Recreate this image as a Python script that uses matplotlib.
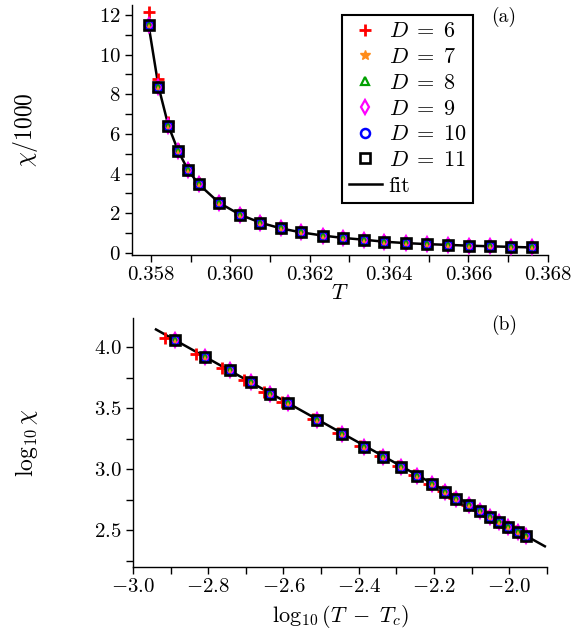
import matplotlib
matplotlib.use("Agg")
import matplotlib.pyplot as plt
from matplotlib.ticker import MultipleLocator, FormatStrFormatter

plt.rcParams['font.family'] = 'serif'
plt.rcParams['font.serif'] = ['cmr10']
plt.rcParams['mathtext.fontset'] = 'cm'
plt.rcParams['axes.formatter.use_mathtext'] = True
plt.rcParams['font.size'] = 15

# panel (a): temperature and chi/1000
T = [0.35794, 0.35819, 0.35844, 0.35869, 0.35894, 0.35920, 0.35972, 0.36025,
     0.36076, 0.36128, 0.36179, 0.36233, 0.36285, 0.36337, 0.36388, 0.36443,
     0.36495, 0.36548, 0.36601, 0.36654, 0.36707, 0.36760]
chi_D6 = [12.13, 8.75, 6.62, 5.25, 4.25, 3.53, 2.56, 1.94, 1.53, 1.24, 1.04,
          0.89, 0.76, 0.67, 0.58, 0.52, 0.47, 0.42, 0.38, 0.34, 0.31, 0.28]
chi_D = [11.50, 8.39, 6.41, 5.12, 4.16, 3.47, 2.52, 1.92, 1.52, 1.23, 1.03,
         0.87, 0.75, 0.66, 0.56, 0.49, 0.44, 0.40, 0.36, 0.33, 0.30, 0.27]

# panel (b): log10(T-Tc) and log10(chi)
logt_D6 = [-2.916, -2.833, -2.764, -2.705, -2.653, -2.605, -2.522, -2.454,
           -2.396, -2.344, -2.295, -2.253, -2.212, -2.177, -2.146, -2.113,
           -2.083, -2.057, -2.032, -2.008, -1.983, -1.961]
logchi_D6 = [4.075, 3.943, 3.828, 3.727, 3.634, 3.553, 3.414, 3.297, 3.190,
             3.107, 3.025, 2.950, 2.883, 2.820, 2.763, 2.707, 2.663, 2.614,
             2.568, 2.530, 2.491, 2.456]
logt_D = [-2.888, -2.810, -2.743, -2.686, -2.635, -2.589, -2.510, -2.444,
          -2.387, -2.336, -2.287, -2.246, -2.205, -2.171, -2.140, -2.107,
          -2.077, -2.051, -2.026, -2.002, -1.977, -1.955]
logchi_D = [4.057, 3.921, 3.809, 3.711, 3.620, 3.541, 3.405, 3.290, 3.184,
            3.102, 3.020, 2.946, 2.880, 2.817, 2.760, 2.705, 2.661, 2.612,
            2.566, 2.528, 2.489, 2.454]
fit_logt = [-2.939, -1.905]
fit_logchi = [4.145, 2.369]

labels = [r"$D\;=\;6$", r"$D\;=\;7$", r"$D\;=\;8$", r"$D\;=\;9$",
          r"$D\;=\;10$", r"$D\;=\;11$"]
styles = [
    dict(marker='+', color='#ff0000', ms=8, mew=2.0),
    dict(marker='*', color='#ff8c1a', ms=7, mew=1.0),
    dict(marker='^', mfc='none', mec='#00a000', ms=6, mew=1.6),
    dict(marker='d', mfc='none', mec='#ff00ff', ms=7, mew=1.6),
    dict(marker='o', mfc='none', mec='#0000ff', ms=6.5, mew=1.8),
    dict(marker='s', mfc='none', mec='black', ms=7.5, mew=1.9),
]

fig = plt.figure(figsize=(5.81, 6.37), dpi=100)
ax1 = fig.add_axes([0.227, 0.600, 0.716, 0.392])
ax2 = fig.add_axes([0.229, 0.110, 0.712, 0.391])

ax1.plot(T, chi_D, color='black', lw=1.8, zorder=1)
for i, (lab, st) in enumerate(zip(labels, styles)):
    y = chi_D6 if i == 0 else chi_D
    ax1.plot(T, y, ls='none', label=lab, zorder=2 + i, **st)
ax1.plot([], [], color='black', lw=1.8, label='fit')

ax2.plot(fit_logt, fit_logchi, color='black', lw=1.8, zorder=1)
for i, st in enumerate(styles):
    xs = logt_D6 if i == 0 else logt_D
    ys = logchi_D6 if i == 0 else logchi_D
    ax2.plot(xs, ys, ls='none', zorder=2 + i, **st)

ax1.set_xlim(0.35752, 0.36800)
ax1.set_ylim(-0.1, 12.5)
ax1.xaxis.set_major_locator(MultipleLocator(0.002))
ax1.xaxis.set_minor_locator(MultipleLocator(0.001))
ax1.yaxis.set_major_locator(MultipleLocator(2))
ax1.yaxis.set_minor_locator(MultipleLocator(1))
ax1.xaxis.set_major_formatter(FormatStrFormatter('%.3f'))
ax1.set_xlabel('$T$', labelpad=0, fontsize=16)
ax1.set_ylabel(r'$\chi/1000$', fontsize=17)
ax1.yaxis.set_label_coords(-0.221, 0.5)

ax2.set_xlim(-3.0, -1.9)
ax2.set_ylim(2.2, 4.24)
ax2.xaxis.set_major_locator(MultipleLocator(0.2))
ax2.xaxis.set_minor_locator(MultipleLocator(0.1))
ax2.yaxis.set_major_locator(MultipleLocator(0.5))
ax2.yaxis.set_minor_locator(MultipleLocator(0.25))
ax2.xaxis.set_major_formatter(FormatStrFormatter('$%.1f$'))
ax2.yaxis.set_major_formatter(FormatStrFormatter('$%.1f$'))
ax2.set_xlabel(r'$\log_{10}(T\;-\;T_c)$', labelpad=5, fontsize=16)
ax2.set_ylabel(r'$\log_{10}\chi$', fontsize=17)
ax2.yaxis.set_label_coords(-0.225, 0.5)

for ax in (ax1, ax2):
    ax.spines['top'].set_visible(False)
    ax.spines['right'].set_visible(False)
    for s in ('left', 'bottom'):
        ax.spines[s].set_linewidth(1.0)
    ax.tick_params(which='both', direction='out', length=5, width=1.0)
    ax.tick_params(which='major', labelsize=15, pad=3)

ax1.text(0.894, 0.952, '(a)', transform=ax1.transAxes, ha='center', va='center', fontsize=14)
ax2.text(0.896, 0.972, '(b)', transform=ax2.transAxes, ha='center', va='center', fontsize=14)

leg = ax1.legend(loc='upper left', bbox_to_anchor=(0.505, 0.96), frameon=True,
                 fancybox=False, edgecolor='black', framealpha=1, fontsize=16,
                 handlelength=1.5, handletextpad=0.3, labelspacing=0.28,
                 borderpad=0.3, borderaxespad=0)
leg.get_frame().set_linewidth(1.5)

fig.savefig('out.png', dpi=100)
